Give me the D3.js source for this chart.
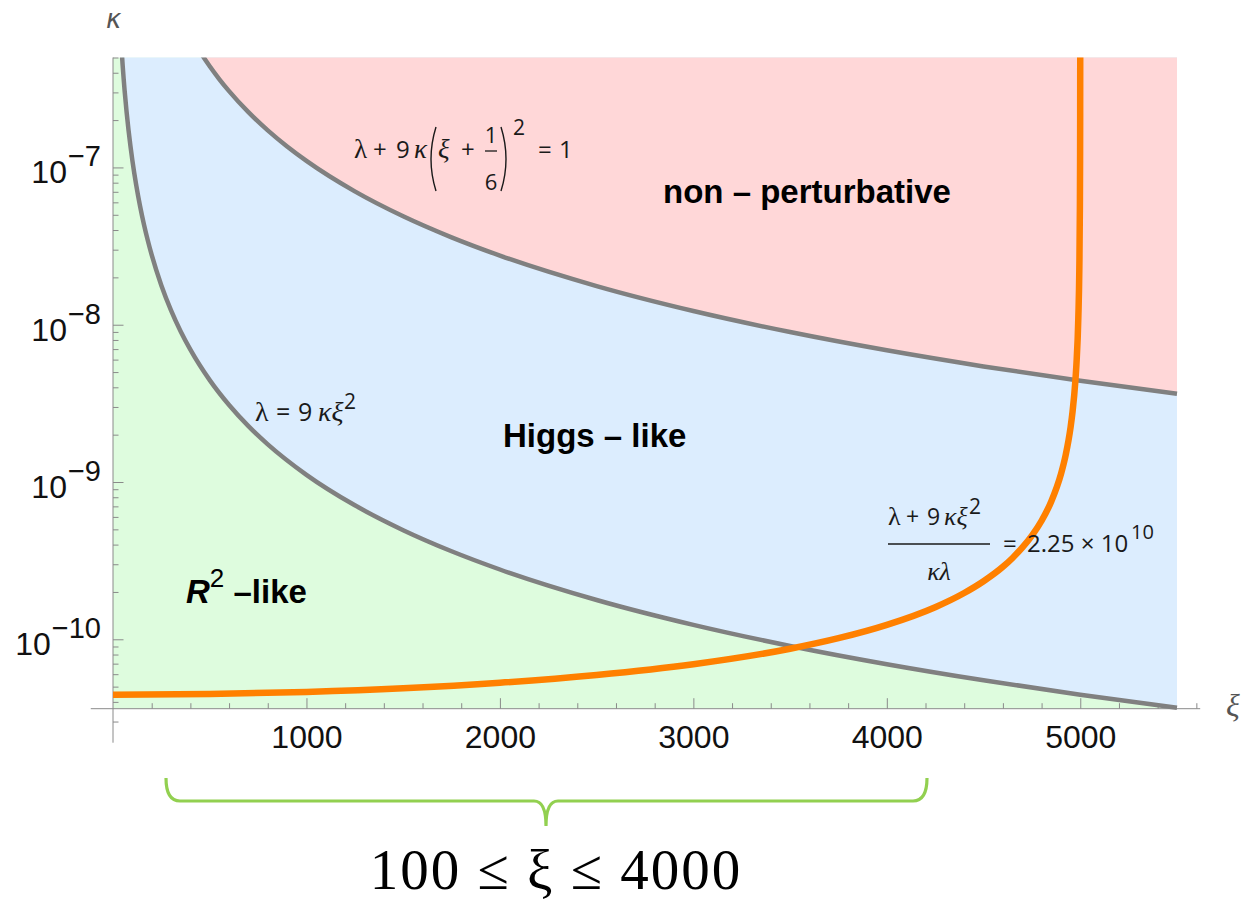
<!doctype html>
<html lang="en">
<head>
<meta charset="utf-8">
<title>kappa vs xi regions</title>
<script src="https://d3js.org/d3.v7.min.js"></script>
<style>
  body { margin: 0; background: #fff; }
  svg { display: block; }
  text { white-space: pre; }
</style>
</head>
<body>
<div id="chart"></div>
<script>
// points (xi, kappa)
var xiLower = [45, 50, 55, 60, 70, 80, 90, 100, 120, 140, 160, 180, 200, 250, 300, 350, 400, 500, 600, 700, 800, 1000, 1250, 1500, 1750, 2000, 2500, 3000, 3500, 4000, 4500, 5000, 5500];
var kappaLower = [5.486e-7, 4.444e-7, 3.673e-7, 3.086e-7, 2.267e-7, 1.736e-7, 1.372e-7, 1.111e-7, 7.716e-8, 5.669e-8, 4.340e-8, 3.429e-8, 2.778e-8, 1.778e-8, 1.235e-8, 9.070e-9, 6.944e-9, 4.444e-9, 3.086e-9, 2.267e-9, 1.736e-9, 1.111e-9, 7.111e-10, 4.938e-10, 3.628e-10, 2.778e-10, 1.778e-10, 1.235e-10, 9.070e-11, 6.944e-11, 5.487e-11, 4.444e-11, 3.673e-11];

var xiUpper = [440, 470, 500, 550, 600, 700, 800, 900, 1000, 1250, 1500, 1750, 2000, 2500, 3000, 3500, 4000, 4500, 5000, 5500];
var kappaUpper = [5.682e-7, 4.980e-7, 4.4e-7, 3.636e-7, 3.056e-7, 2.245e-7, 1.719e-7, 1.358e-7, 1.1e-7, 7.04e-8, 4.889e-8, 3.592e-8, 2.75e-8, 1.76e-8, 1.222e-8, 8.980e-9, 6.875e-9, 5.432e-9, 4.4e-9, 3.636e-9];

var xiOrange = [0, 500, 1000, 1500, 2000, 2500, 3000, 3500, 3750, 4000, 4250, 4400, 4500, 4600, 4650, 4700, 4750, 4800, 4850, 4900, 4925, 4950, 4960, 4975, 4980, 4990, 4995, 4998, 4999, 4999.5, 4999.8];
var kappaOrange = [4.44e-11, 4.49e-11, 4.63e-11, 4.88e-11, 5.29e-11, 5.93e-11, 6.94e-11, 8.71e-11, 1.016e-10, 1.235e-10, 1.60e-10, 1.97e-10, 2.34e-10, 2.89e-10, 3.29e-10, 3.82e-10, 4.56e-10, 5.67e-10, 7.52e-10, 1.122e-9, 1.493e-9, 2.233e-9, 2.789e-9, 4.456e-9, 5.567e-9, 1.112e-8, 2.223e-8, 5.557e-8, 1.111e-7, 2.222e-7, 5.556e-7];

var xMajorTicks = [1000, 2000, 3000, 4000, 5000];
var yLabelExps = [-7, -8, -9, -10];

var width = 1243, height = 907;
var pLeft = 113, pRight = 1177, pTop = 57.5, pBottom = 708.7;

var svg = d3.select("#chart").append("svg")
    .attr("width", width)
    .attr("height", height)
    .attr("font-family", "'Liberation Sans', Arial, sans-serif");

var x = d3.scaleLinear().domain([0, 5500]).range([pLeft, pRight]);
var y = d3.scaleLog().domain([3.62e-11, 5e-7]).range([pBottom, pTop]);

var defs = svg.append("defs");
defs.append("clipPath").attr("id", "plot")
    .append("rect").attr("x", pLeft).attr("y", pTop).attr("width", pRight - pLeft).attr("height", pBottom - pTop);
defs.append("clipPath").attr("id", "lines")
    .append("rect").attr("x", pLeft - 6).attr("y", pTop).attr("width", pRight - pLeft + 8).attr("height", pBottom - pTop + 4);

function pts(xs, ks) { return xs.map(function(v, i) { return [v, ks[i]]; }); }
var lower = pts(xiLower, kappaLower),
    upper = pts(xiUpper, kappaUpper),
    orange = pts(xiOrange, kappaOrange);

// region fills
var fills = svg.append("g").attr("clip-path", "url(#plot)");
fills.append("rect")
    .attr("x", pLeft).attr("y", pTop).attr("width", pRight - pLeft).attr("height", pBottom - pTop)
    .attr("fill", "#defcde");

var area = d3.area()
    .x(function(d) { return x(d[0]); })
    .y0(pTop - 20)
    .y1(function(d) { return y(d[1]); })
    .curve(d3.curveMonotoneX);

fills.append("path").datum(lower).attr("d", area).attr("fill", "#dcedfe");
fills.append("path").datum(upper).attr("d", area).attr("fill", "#ffd7d8");

// axes
var axisColor = "#8a8a8a";
var yTickVals = [];
for (var e = -11; e <= -7; e++) {
  for (var m = 1; m <= 9; m++) {
    var v = m * Math.pow(10, e);
    if (v >= 2.5e-11 && v <= 5.01e-7) yTickVals.push(v);
  }
}
var yMinor = yTickVals.filter(function(v) { return Math.abs(Math.log10(v) - Math.round(Math.log10(v))) > 1e-6; });
var yMajor = yTickVals.filter(function(v) { return yMinor.indexOf(v) < 0; });

function styleAxis(g) {
  g.select(".domain").remove();
  g.selectAll("line").attr("stroke", axisColor);
}

svg.append("g").attr("transform", "translate(" + pLeft + ",0)")
    .call(d3.axisRight(y).tickValues(yMinor).tickSize(5.5).tickFormat(""))
    .call(styleAxis);
svg.append("g").attr("transform", "translate(" + pLeft + ",0)")
    .call(d3.axisRight(y).tickValues(yMajor).tickSize(10.5).tickFormat(""))
    .call(styleAxis);

var xMinor = d3.range(200, 5601, 200).filter(function(v) { return v % 1000 !== 0; });
svg.append("g").attr("transform", "translate(0," + pBottom + ")")
    .call(d3.axisTop(x).tickValues(xMinor).tickSize(5.5).tickFormat(""))
    .call(styleAxis);
svg.append("g").attr("transform", "translate(0," + pBottom + ")")
    .call(d3.axisTop(x).tickValues(xMajorTicks).tickSize(10.5).tickFormat(""))
    .call(styleAxis);

svg.append("line")
    .attr("x1", x(-115)).attr("x2", x(5620)).attr("y1", pBottom).attr("y2", pBottom)
    .attr("stroke", axisColor).attr("stroke-width", 1);
svg.append("line")
    .attr("x1", pLeft).attr("x2", pLeft).attr("y1", pTop).attr("y2", y(2.2e-11))
    .attr("stroke", axisColor).attr("stroke-width", 1);

// x tick labels
var xLab = svg.append("g").attr("transform", "translate(0," + pBottom + ")")
    .call(d3.axisBottom(x).tickValues(xMajorTicks).tickSize(0).tickPadding(17).tickFormat(d3.format("d")));
xLab.select(".domain").remove();
xLab.selectAll("text").attr("font-size", 32).attr("fill", "#111").attr("font-family", "'Liberation Sans', Arial, sans-serif");

// y tick labels 10^e
yLabelExps.forEach(function(ex) {
  var t = svg.append("text")
      .attr("x", 101)
      .attr("y", y(Math.pow(10, ex)) + 16)
      .attr("text-anchor", "end")
      .attr("font-size", 32)
      .attr("fill", "#111");
  t.append("tspan").text("10");
  t.append("tspan").attr("dy", -17).attr("dx", 1).attr("font-size", 29).text("\u2212" + Math.abs(ex));
});

// axis names
svg.append("text").attr("x", 106).attr("y", 28)
    .attr("font-size", 26).attr("font-style", "italic").attr("fill", "#555")
    .attr("font-family", "'DejaVu Sans', sans-serif").text("\u03ba");
svg.append("text").attr("x", 1226).attr("y", 716)
    .attr("font-size", 32).attr("font-style", "italic").attr("fill", "#555")
    .attr("font-family", "'Liberation Serif', serif").text("\u03be");

// boundary curves
var line = d3.line()
    .x(function(d) { return x(d[0]); })
    .y(function(d) { return y(d[1]); })
    .curve(d3.curveMonotoneX);

var curves = svg.append("g").attr("clip-path", "url(#lines)").attr("fill", "none");
curves.append("path").datum(lower).attr("d", line).attr("stroke", "#808080").attr("stroke-width", 4.5);
curves.append("path").datum(upper).attr("d", line).attr("stroke", "#808080").attr("stroke-width", 4.5);
curves.append("path").datum(orange).attr("d", line).attr("stroke", "#ff8000").attr("stroke-width", 6.5);

// region labels
function boldLabel(px, py, str) {
  return svg.append("text").attr("x", px).attr("y", py)
      .attr("font-size", 33).attr("font-weight", "bold").attr("fill", "#000").text(str);
}
boldLabel(663, 203, "non \u2013 perturbative");
boldLabel(503, 447, "Higgs \u2013 like");
var r2 = svg.append("text").attr("x", 186).attr("y", 603)
    .attr("font-size", 33).attr("font-weight", "bold").attr("fill", "#000");
r2.append("tspan").attr("font-style", "italic").text("R");
r2.append("tspan").attr("dy", -16).attr("font-size", 26).attr("font-weight", "normal").text("2");
r2.append("tspan").attr("dy", 16).text(" \u2013like");

// formula labels
var serif = "'Liberation Serif', 'Times New Roman', serif",
    sans = "'Open Sans', sans-serif",
    ink = "#1a1a1a";

function piece(px, py, str, size, font, italic, anchor) {
  return svg.append("text").attr("x", px).attr("y", py)
      .attr("font-size", size).attr("font-family", font)
      .attr("font-style", italic ? "italic" : "normal")
      .attr("text-anchor", anchor || "start")
      .attr("fill", ink).text(str);
}
function paren(x0, x1, y0, y1) {
  svg.append("path")
      .attr("d", "M" + x0 + "," + y0 + " Q" + x1 + "," + ((y0 + y1) / 2) + " " + x0 + "," + y1)
      .attr("fill", "none").attr("stroke", ink).attr("stroke-width", 1.4);
}

// λ + 9 κ (ξ + 1/6)^2 = 1
piece(354, 158, "\u03bb", 27, serif);
piece(373, 158, "+", 24, sans);
piece(396, 158, "9", 24, sans);
piece(414, 158, "\u03ba", 27, serif, true);
paren(436, 426, 127, 191);
piece(438, 158, "\u03be", 27, serif, true);
piece(461, 158, "+", 24, sans);
piece(491, 143, "1", 22, sans, false, "middle");
svg.append("line").attr("x1", 485).attr("x2", 497).attr("y1", 151).attr("y2", 151).attr("stroke", ink).attr("stroke-width", 1.3);
piece(491, 190, "6", 22, sans, false, "middle");
paren(501, 511, 127, 191);
piece(513, 135, "2", 21, sans);
piece(538, 158, "=", 24, sans);
piece(559, 158, "1", 24, sans);

// λ = 9 κξ^2
piece(255, 421, "\u03bb", 28, serif);
piece(276, 421, "=", 25, sans);
piece(298, 421, "9", 25, sans);
piece(318, 421, "\u03ba\u03be", 28, serif, true);
piece(344, 409, "2", 21, sans);

// (λ + 9 κξ^2) / (κλ) = 2.25 × 10^10
piece(888, 525, "\u03bb", 26, serif);
piece(906, 525, "+", 23, sans);
piece(927, 525, "9", 23, sans);
piece(944, 525, "\u03ba\u03be", 26, serif, true);
piece(969, 514, "2", 21, sans);
svg.append("line").attr("x1", 888).attr("x2", 990).attr("y1", 544).attr("y2", 544).attr("stroke", ink).attr("stroke-width", 1.3);
piece(939, 580, "\u03ba\u03bb", 26, serif, true, "middle");
piece(1003, 552, "=", 24, sans);
piece(1027, 552, "2.25 \u00d7 10", 24, sans);
piece(1131, 539, "10", 20, sans);

// highlighted range brace
svg.append("path")
    .attr("d", "M166,778 Q166,801 180,801 L534,801 Q546,801 546,826 Q546,801 558,801 L913,801 Q927,801 927,778")
    .attr("fill", "none").attr("stroke", "#92d050").attr("stroke-width", 3.2);

svg.append("text").attr("x", 556).attr("y", 889)
    .attr("text-anchor", "middle").attr("font-size", 57)
    .attr("letter-spacing", 2)
    .attr("font-family", serif).attr("fill", "#000")
    .text("100 \u2264 \u03be \u2264 4000");
</script>
</body>
</html>
